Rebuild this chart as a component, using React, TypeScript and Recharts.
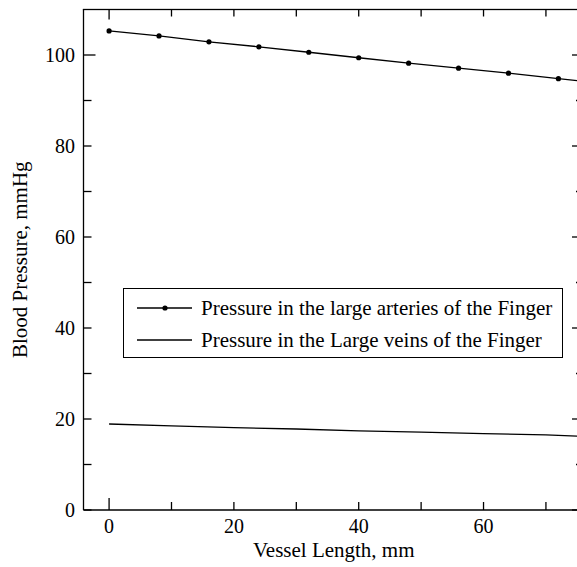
import React from 'react';
import { LineChart, Line, XAxis, YAxis, Legend, Label } from 'recharts';

// vessel positions (mm) and pressures (mmHg)
const arteryLength = [0, 8, 16, 24, 32, 40, 48, 56, 64, 72, 76];
const arteryPressure = [105.3, 104.2, 102.9, 101.8, 100.6, 99.4, 98.2, 97.1, 96.0, 94.8, 94.2];
const veinLength = [0, 10, 20, 30, 40, 50, 60, 70, 76];
const veinPressure = [18.9, 18.5, 18.1, 17.8, 17.4, 17.1, 16.8, 16.5, 16.2];

const xTicks = [0, 10, 20, 30, 40, 50, 60, 70];
const yTicks = [0, 10, 20, 30, 40, 50, 60, 70, 80, 90, 100];

const arterySeries = 'Pressure in the large arteries of the Finger';
const veinSeries = 'Pressure in the Large veins of the Finger';

const arteryData = arteryLength.map((x, i) => ({ x, p: arteryPressure[i] }));
const veinData = veinLength.map((x, i) => ({ x, p: veinPressure[i] }));

const FONT = '"Liberation Serif", "Times New Roman", serif';
const SW = 1.3;
const PLOT_TOP = 9.5;
const CHART_W = 600;

// bottom tick + its mirror on the top frame
const BottomTick = (props: any) => {
  const { x, y, payload } = props;
  const v = payload.value;
  const len = v === 0 ? 12 : 8;
  const topLen = v === 0 ? 10 : 7;
  return (
    <g>
      <line x1={x} y1={y} x2={x} y2={y - len} stroke="#000" strokeWidth={SW} />
      <rect x={x - SW / 2} y={PLOT_TOP} width={SW} height={topLen} fill="#000" />
      {v % 20 === 0 && (
        <text x={x} y={y + 23} textAnchor="middle" fontFamily={FONT} fontSize={20} fill="#000">
          {v}
        </text>
      )}
    </g>
  );
};

const LeftTick = (props: any) => {
  const { x, y, payload } = props;
  const v = payload.value;
  const len = v === 100 ? 12 : 8;
  return (
    <g>
      <line x1={x} y1={y} x2={x + len} y2={y} stroke="#000" strokeWidth={SW} />
      {v % 20 === 0 && (
        <text x={x - 8.5} y={y + 7} textAnchor="end" fontFamily={FONT} fontSize={20} fill="#000">
          {v}
        </text>
      )}
    </g>
  );
};

const RightTick = (props: any) => {
  const { x, y, payload } = props;
  const len = payload.value % 20 === 0 ? 12 : 8;
  return <line x1={x} y1={y} x2={x - len} y2={y} stroke="#000" strokeWidth={SW} />;
};

const ArteryDot = (props: any) => {
  const { cx, cy, index } = props;
  if (index === arteryLength.length - 1) return <g key={`d-${index}`} />;
  return <circle key={`d-${index}`} cx={cx} cy={cy} r={2.6} fill="#000" />;
};

const LegendBox = () => (
  <div
    style={{
      width: 440,
      height: 70,
      boxSizing: 'border-box',
      border: '1px solid #000',
      background: '#fff',
      fontFamily: FONT,
      fontSize: 21,
      position: 'relative',
    }}
  >
    <svg width={70} height={68} style={{ position: 'absolute', left: 0, top: 0 }}>
      <line x1={13} y1={19} x2={68} y2={19} stroke="#000" strokeWidth={SW} />
      <circle cx={41} cy={19} r={2.6} fill="#000" />
      <line x1={13} y1={51} x2={68} y2={51} stroke="#000" strokeWidth={SW} />
    </svg>
    <div style={{ position: 'absolute', left: 77, top: 6, lineHeight: '26px', whiteSpace: 'nowrap' }}>
      {arterySeries}
    </div>
    <div style={{ position: 'absolute', left: 77, top: 38, lineHeight: '26px', whiteSpace: 'nowrap' }}>
      {veinSeries}
    </div>
  </div>
);

export default function App() {
  return (
    <div
      style={{
        position: 'absolute',
        left: 0,
        top: 0,
        width: 577,
        height: 567,
        overflow: 'hidden',
        background: '#fff',
      }}
    >
      <LineChart width={CHART_W} height={567} margin={{ top: PLOT_TOP, right: 15, bottom: 0, left: 0 }}>
        <XAxis
          dataKey="x"
          type="number"
          domain={[-4.1, 76.1]}
          allowDataOverflow
          ticks={xTicks}
          interval={0}
          height={57}
          tickSize={0}
          tickMargin={0}
          tickLine={false}
          tick={<BottomTick />}
          axisLine={{ stroke: '#000', strokeWidth: SW }}
        >
          <Label
            content={({ viewBox }: any) => (
              <text
                x={viewBox.x + viewBox.width / 2}
                y={557}
                textAnchor="middle"
                fontFamily={FONT}
                fontSize={21}
                fill="#000"
              >
                Vessel Length, mm
              </text>
            )}
          />
        </XAxis>
        <YAxis
          type="number"
          domain={[0, 110]}
          allowDataOverflow
          ticks={yTicks}
          interval={0}
          width={83.5}
          tickSize={0}
          tickMargin={0}
          tickLine={false}
          tick={<LeftTick />}
          axisLine={{ stroke: '#000', strokeWidth: SW }}
        >
          <Label
            content={({ viewBox }: any) => {
              const cy = viewBox.y + viewBox.height / 2;
              const left = viewBox.x + viewBox.width;
              return (
                <g>
                  {/* top frame */}
                  <rect x={left - SW / 2} y={PLOT_TOP - SW / 2} width={CHART_W - left} height={SW} fill="#000" />
                  <text
                    transform={`translate(27, ${cy}) rotate(-90)`}
                    textAnchor="middle"
                    fontFamily={FONT}
                    fontSize={21}
                    fill="#000"
                  >
                    Blood Pressure, mmHg
                  </text>
                </g>
              );
            }}
          />
        </YAxis>
        <YAxis
          yAxisId="right"
          orientation="right"
          type="number"
          domain={[0, 110]}
          allowDataOverflow
          ticks={yTicks}
          interval={0}
          width={1}
          tickSize={0}
          tickMargin={0}
          tickLine={false}
          tick={<RightTick />}
          axisLine={{ stroke: '#000', strokeWidth: SW }}
        />
        <Legend
          layout="horizontal"
          verticalAlign="middle"
          align="center"
          wrapperStyle={{ left: 123, top: 288, width: 440, height: 70 }}
          content={<LegendBox />}
        />
        <Line
          data={arteryData}
          dataKey="p"
          name={arterySeries}
          stroke="#000"
          strokeWidth={SW}
          dot={<ArteryDot />}
          activeDot={false}
          isAnimationActive={false}
        />
        <Line
          data={veinData}
          dataKey="p"
          name={veinSeries}
          stroke="#000"
          strokeWidth={SW}
          dot={false}
          activeDot={false}
          isAnimationActive={false}
        />
      </LineChart>
    </div>
  );
}
